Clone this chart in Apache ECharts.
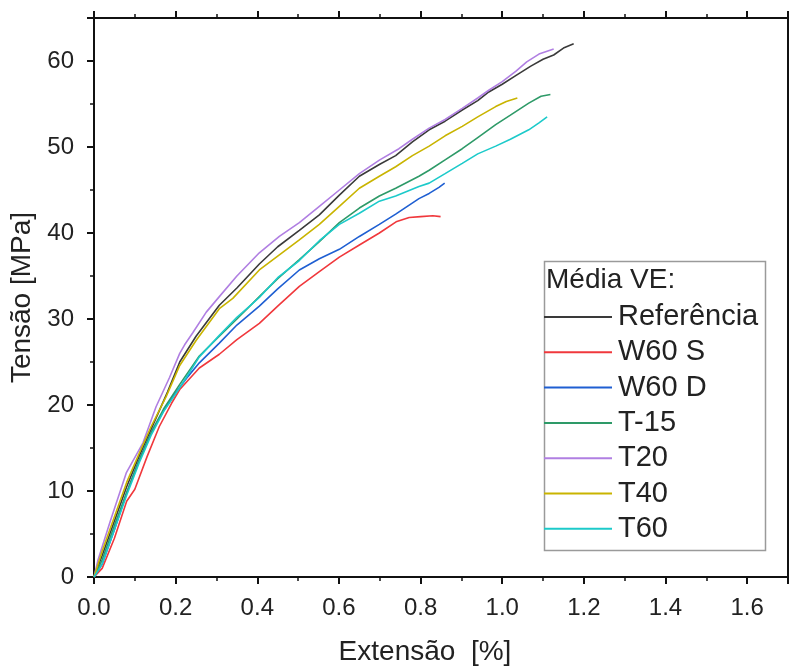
<!DOCTYPE html>
<html>
<head>
<meta charset="utf-8">
<script src="https://cdn.jsdelivr.net/npm/echarts@6/dist/echarts.min.js"></script>
<style>
html,body{margin:0;padding:0;background:#fff;}
#chart{width:789px;height:671px;}
</style>
</head>
<body>
<div id="chart"></div>
<script>
// ---- data (x = Extensão [%], y = Tensão [MPa]) ----
const seriesNames = ["Referência", "W60 S", "W60 D", "T-15", "T20", "T40", "T60"];
const xTicks = [0.0, 0.2, 0.4, 0.6, 0.8, 1.0, 1.2, 1.4, 1.6];
const yTicks = [0, 10, 20, 30, 40, 50, 60];

const referencia = [[0,0],[0.02,2.5],[0.05,6.5],[0.08,10.5],[0.11,14],[0.14,17.2],[0.18,21.5],[0.21,25.0],[0.25,28.0],[0.307,31.6],[0.35,33.6],[0.405,36.4],[0.45,38.4],[0.503,40.3],[0.552,42.1],[0.601,44.4],[0.65,46.6],[0.70,48.0],[0.739,49.0],[0.78,50.6],[0.821,52.0],[0.86,53.0],[0.902,54.3],[0.94,55.4],[0.967,56.4],[1.0,57.3],[1.033,58.3],[1.07,59.4],[1.10,60.2],[1.126,60.7],[1.15,61.5],[1.175,62.0]];
const w60s = [[0,0],[0.02,1],[0.05,4.5],[0.08,8.8],[0.1,10.2],[0.13,14],[0.16,17.5],[0.19,20.2],[0.21,21.8],[0.258,24.3],[0.307,25.9],[0.35,27.6],[0.405,29.5],[0.45,31.5],[0.503,33.8],[0.552,35.5],[0.601,37.2],[0.65,38.6],[0.699,40.0],[0.74,41.3],[0.772,41.8],[0.80,41.9],[0.83,42.0],[0.849,41.9]];
const w60d = [[0,0],[0.02,1.5],[0.05,5.5],[0.08,9.8],[0.11,13.5],[0.14,16.8],[0.17,19.3],[0.193,21.0],[0.23,23.3],[0.258,24.9],[0.307,27.2],[0.35,29.3],[0.405,31.5],[0.45,33.5],[0.503,35.7],[0.552,37.0],[0.601,38.1],[0.65,39.6],[0.699,41.0],[0.739,42.2],[0.796,44.0],[0.821,44.6],[0.845,45.3],[0.859,45.8]];
const t15 = [[0,0],[0.02,2],[0.05,6],[0.08,9.8],[0.11,13.5],[0.14,16.8],[0.17,19.5],[0.21,22.4],[0.258,25.7],[0.307,28.0],[0.35,30.0],[0.405,32.6],[0.45,34.7],[0.503,36.9],[0.552,39.0],[0.601,41.2],[0.65,42.9],[0.699,44.3],[0.739,45.2],[0.796,46.6],[0.821,47.3],[0.86,48.5],[0.902,49.8],[0.94,51.1],[0.984,52.6],[1.02,53.7],[1.065,55.1],[1.095,55.9],[1.118,56.1]];
const t20 = [[0,0],[0.01,2],[0.04,6.5],[0.079,12.1],[0.12,15.6],[0.152,19.8],[0.185,23.2],[0.21,26.0],[0.222,27.0],[0.242,28.4],[0.275,30.8],[0.307,32.6],[0.35,35.0],[0.405,37.7],[0.454,39.6],[0.503,41.2],[0.552,43.1],[0.601,45.0],[0.65,46.9],[0.70,48.5],[0.747,49.8],[0.78,50.9],[0.821,52.2],[0.86,53.2],[0.902,54.5],[0.94,55.7],[0.967,56.6],[1.0,57.6],[1.033,58.8],[1.06,59.9],[1.09,60.8],[1.126,61.4]];
const t40 = [[0,0],[0.02,3],[0.05,7],[0.08,11],[0.11,14.3],[0.14,17.5],[0.177,21.0],[0.21,24.6],[0.25,27.5],[0.307,31.2],[0.34,32.4],[0.405,35.7],[0.45,37.3],[0.503,39.2],[0.552,41.0],[0.601,43.1],[0.65,45.2],[0.699,46.6],[0.739,47.7],[0.78,49.0],[0.821,50.1],[0.86,51.3],[0.902,52.4],[0.94,53.5],[0.984,54.7],[1.01,55.3],[1.037,55.7]];
const t60 = [[0,0],[0.02,1.5],[0.05,5.5],[0.08,9.5],[0.11,13.2],[0.14,16.5],[0.17,19.2],[0.21,22.0],[0.258,25.6],[0.307,28.1],[0.35,30.2],[0.405,32.5],[0.45,34.8],[0.503,36.8],[0.552,39.1],[0.601,41.0],[0.65,42.3],[0.699,43.7],[0.739,44.3],[0.796,45.4],[0.821,45.8],[0.86,46.9],[0.902,48.1],[0.94,49.2],[0.984,50.1],[1.02,50.9],[1.065,52.0],[1.09,52.8],[1.110,53.5]];

const seriesData = [referencia, w60s, w60d, t15, t20, t40, t60];
const seriesColors = ["#3a3a3a", "#f0383c", "#1f5fd2", "#2e9a68", "#b07fe2", "#c9b400", "#1ccaca"];

// ---- chart ----
const chart = echarts.init(document.getElementById('chart'), null, {renderer: 'canvas'});
const FONT = "'Liberation Sans', Arial, sans-serif";
const axisColor = '#111';

const baseX = {
  type: 'value', min: 0, max: 1.7, interval: 0.2,
  splitLine: {show: false},
  axisLine: {show: true, onZero: false, lineStyle: {color: axisColor, width: 2}},
  axisTick: {show: true, inside: false, length: 7, lineStyle: {color: axisColor, width: 2}},
  minorTick: {show: true, splitNumber: 2, length: 4, lineStyle: {color: axisColor, width: 1.5}},
};
const baseY = {
  type: 'value', min: 0, max: 65, interval: 10,
  splitLine: {show: false},
  axisLine: {show: true, onZero: false, lineStyle: {color: axisColor, width: 2}},
  axisTick: {show: true, inside: false, length: 7, lineStyle: {color: axisColor, width: 2}},
  minorTick: {show: true, splitNumber: 2, length: 4, lineStyle: {color: axisColor, width: 1.5}},
};

const option = {
  animation: false,
  backgroundColor: '#fff',
  grid: {left: 94, right: 1, top: 18, bottom: 93, containLabel: false},
  xAxis: [
    Object.assign({}, baseX, {
      position: 'bottom',
      name: 'Extensão  [%]', nameLocation: 'middle', nameGap: 61,
      nameTextStyle: {fontFamily: FONT, fontSize: 28, color: '#222', padding: [0, 32, 0, 0]},
      axisLabel: {show: true, fontFamily: FONT, fontSize: 24, color: '#222', margin: 19,
        showMaxLabel: false,
        formatter: v => (xTicks.some(t => Math.abs(t - v) < 1e-6) ? v.toFixed(1) : '')}
    }),
    Object.assign({}, baseX, {position: 'top', axisLabel: {show: false}})
  ],
  yAxis: [
    Object.assign({}, baseY, {
      position: 'left',
      name: 'Tensão [MPa]', nameLocation: 'middle', nameGap: 51,
      nameTextStyle: {fontFamily: FONT, fontSize: 28, color: '#222'},
      axisLabel: {show: true, fontFamily: FONT, fontSize: 24, color: '#222', margin: 20,
        showMaxLabel: false,
        formatter: v => (yTicks.indexOf(v) >= 0 ? String(v) : '')}
    }),
    Object.assign({}, baseY, {position: 'right', axisLabel: {show: false}})
  ],
  legend: {
    show: true, orient: 'vertical', left: 544, top: 302,
    padding: 0, itemGap: 5.3, itemWidth: 68, itemHeight: 2, icon: 'rect',
    data: seriesNames,
    textStyle: {fontFamily: FONT, fontSize: 29, color: '#222', lineHeight: 30, padding: [0, 0, 0, 1]}
  },
  graphic: [
    {type: 'rect', left: 542, top: 259, z: 1, silent: true,
      shape: {width: 221, height: 289},
      style: {fill: 'none', stroke: '#9a9a9a', lineWidth: 1.5}},
    {type: 'text', left: 546, top: 266, z: 5, silent: true,
      style: {text: 'Média VE:', fontFamily: FONT, fontSize: 28, fill: '#222'}}
  ],
  series: seriesNames.map((name, i) => ({
    name: name, type: 'line', xAxisIndex: 0, yAxisIndex: 0,
    data: seriesData[i], symbol: 'none', showSymbol: false, smooth: false,
    lineStyle: {color: seriesColors[i], width: 1.6},
    itemStyle: {color: seriesColors[i]},
    z: 2
  }))
};
chart.setOption(option);
</script>
</body>
</html>
